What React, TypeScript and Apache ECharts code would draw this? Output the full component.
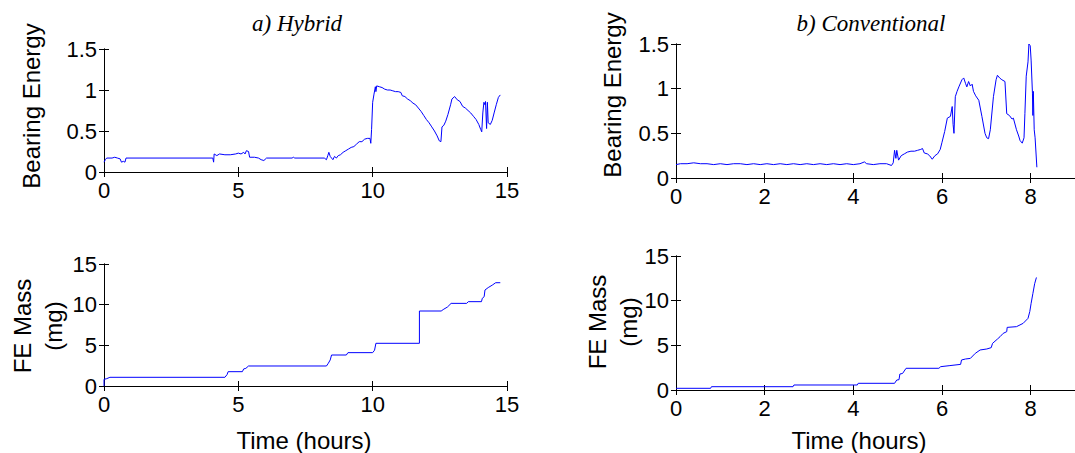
import React, { useEffect, useRef } from "react";
import * as echarts from "echarts";

// ---- Data ----
const hybridEnergyT = [0.0, 0.05, 0.1, 0.3, 0.4, 0.5, 0.6, 0.65, 0.72, 0.78, 0.82, 4.05, 4.08, 4.1, 4.2, 4.3, 4.5, 4.7, 4.9, 5.0, 5.1, 5.2, 5.25, 5.3, 5.38, 5.42, 5.6, 5.75, 5.85, 5.95, 6.05, 7.0, 7.05, 7.1, 8.2, 8.28, 8.33, 8.37, 8.42, 8.47, 8.52, 8.58, 8.65, 8.72, 8.8, 8.9, 9.0, 9.1, 9.2, 9.3, 9.4, 9.5, 9.6, 9.7, 9.8, 9.9, 9.93, 9.96, 10.0, 10.05, 10.1, 10.12, 10.15, 10.25, 10.35, 10.45, 10.55, 10.65, 10.75, 10.85, 10.95, 11.05, 11.1, 11.2, 11.3, 11.4, 11.5, 11.6, 11.7, 11.8, 11.9, 12.0, 12.1, 12.2, 12.3, 12.4, 12.48, 12.54, 12.58, 12.65, 12.72, 12.8, 12.9, 12.95, 13.05, 13.15, 13.25, 13.35, 13.45, 13.55, 13.65, 13.75, 13.85, 13.95, 14.02, 14.06, 14.1, 14.14, 14.18, 14.2, 14.24, 14.27, 14.3, 14.38, 14.45, 14.52, 14.6, 14.68, 14.75];
const hybridEnergyV = [0.12, 0.15, 0.17, 0.17, 0.18, 0.17, 0.16, 0.12, 0.13, 0.12, 0.17, 0.17, 0.12, 0.22, 0.2, 0.22, 0.21, 0.21, 0.22, 0.23, 0.22, 0.24, 0.22, 0.26, 0.25, 0.18, 0.18, 0.17, 0.15, 0.14, 0.17, 0.17, 0.18, 0.17, 0.17, 0.15, 0.2, 0.24, 0.19, 0.17, 0.15, 0.19, 0.17, 0.2, 0.21, 0.24, 0.26, 0.28, 0.3, 0.31, 0.34, 0.37, 0.37, 0.4, 0.41, 0.41, 0.35, 0.52, 0.85, 0.95, 1.04, 0.98, 1.05, 1.04, 1.03, 1.01, 1.0, 1.0, 0.99, 0.98, 0.98, 0.97, 0.93, 0.92, 0.89, 0.87, 0.84, 0.82, 0.78, 0.74, 0.69, 0.64, 0.6, 0.55, 0.5, 0.44, 0.38, 0.37, 0.55, 0.57, 0.62, 0.7, 0.82, 0.89, 0.92, 0.88, 0.86, 0.8, 0.78, 0.75, 0.72, 0.68, 0.64, 0.58, 0.52, 0.49, 0.72, 0.85, 0.82, 0.86, 0.53, 0.85, 0.6, 0.58, 0.63, 0.72, 0.82, 0.91, 0.94];

const hybridMassT = [0, 0, 0.1, 0.22, 4.5, 4.58, 4.62, 5.15, 5.2, 5.28, 5.38, 8.28, 8.35, 8.42, 8.47, 9.02, 9.08, 10.0, 10.07, 10.12, 11.74, 11.74, 12.55, 12.65, 12.78, 12.92, 13.5, 13.56, 14.05, 14.08, 14.15, 14.18, 14.3, 14.45, 14.58, 14.75];
const hybridMassV = [0, 0.82, 0.9, 1.07, 1.07, 1.4, 1.76, 1.76, 2.1, 2.17, 2.46, 2.46, 2.8, 3.2, 3.81, 3.81, 4.1, 4.1, 4.4, 5.25, 5.25, 9.22, 9.22, 9.45, 9.7, 10.16, 10.16, 10.37, 10.37, 10.78, 10.98, 11.8, 12.1, 12.4, 12.7, 12.7];

const convEnergyT = [0.0, 0.1, 0.25, 0.4, 0.55, 0.7, 0.85, 1.0, 1.15, 1.3, 1.45, 1.6, 1.75, 1.9, 2.05, 2.2, 2.35, 2.5, 2.65, 2.8, 2.95, 3.1, 3.25, 3.4, 3.55, 3.7, 3.85, 4.0, 4.15, 4.25, 4.3, 4.45, 4.6, 4.75, 4.86, 4.9, 4.93, 4.96, 4.98, 5.02, 5.08, 5.15, 5.22, 5.3, 5.38, 5.45, 5.52, 5.56, 5.6, 5.67, 5.72, 5.78, 5.84, 5.9, 5.96, 6.0, 6.06, 6.12, 6.19, 6.23, 6.25, 6.27, 6.3, 6.34, 6.38, 6.45, 6.49, 6.53, 6.56, 6.6, 6.64, 6.68, 6.71, 6.76, 6.83, 6.9, 6.97, 7.01, 7.05, 7.09, 7.16, 7.22, 7.25, 7.3, 7.35, 7.42, 7.46, 7.52, 7.58, 7.61, 7.68, 7.73, 7.76, 7.81, 7.85, 7.87, 7.9, 7.94, 7.96, 7.99, 8.01, 8.04, 8.05, 8.06, 8.08, 8.1, 8.14];
const convEnergyV = [0.15, 0.16, 0.16, 0.17, 0.16, 0.16, 0.15, 0.16, 0.15, 0.16, 0.16, 0.15, 0.16, 0.15, 0.16, 0.15, 0.16, 0.15, 0.16, 0.15, 0.16, 0.15, 0.16, 0.15, 0.16, 0.15, 0.16, 0.15, 0.16, 0.18, 0.16, 0.15, 0.16, 0.16, 0.14, 0.17, 0.31, 0.22, 0.31, 0.2, 0.25, 0.27, 0.29, 0.3, 0.3, 0.31, 0.32, 0.33, 0.28, 0.27, 0.25, 0.21, 0.25, 0.27, 0.32, 0.4, 0.52, 0.67, 0.69, 0.8, 0.6, 0.5, 0.91, 0.97, 1.02, 1.1, 1.12, 1.06, 1.02, 1.08, 1.03, 1.05, 0.97, 0.92, 0.87, 0.69, 0.5, 0.45, 0.44, 0.54, 0.91, 1.1, 1.15, 1.12, 1.1, 1.08, 0.72, 0.7, 0.66, 0.67, 0.54, 0.47, 0.42, 0.39, 0.45, 0.72, 1.14, 1.3, 1.5, 1.48, 1.32, 0.95, 0.7, 0.97, 0.54, 0.45, 0.12];

const convMassT = [0, 0.78, 0.8, 2.64, 2.66, 4.09, 4.11, 4.93, 4.98, 5.03, 5.05, 5.11, 5.19, 5.93, 5.97, 6.16, 6.42, 6.44, 6.53, 6.64, 6.75, 6.86, 7.01, 7.11, 7.14, 7.25, 7.31, 7.38, 7.46, 7.47, 7.68, 7.83, 7.94, 7.98, 8.01, 8.05, 8.09, 8.13];
const convMassV = [0.19, 0.19, 0.37, 0.37, 0.56, 0.56, 0.75, 0.75, 1.12, 1.15, 1.79, 1.85, 2.43, 2.43, 2.61, 2.72, 2.87, 3.36, 3.47, 3.54, 4.1, 4.48, 4.59, 4.74, 5.22, 5.7, 5.97, 6.34, 6.53, 7.01, 7.09, 7.46, 8.02, 8.77, 9.7, 10.8, 11.9, 12.6];

const titles = ["a) Hybrid", "b) Conventional"];
const energyLabel = "Bearing Energy";
const massLabel = "FE Mass\n(mg)";
const timeLabel = "Time (hours)";

const zip = (t: number[], v: number[]) => t.map((x, i) => [x, v[i]]);

const FONT = "Liberation Sans, Arial, sans-serif";

export default function App() {
  const ref = useRef<HTMLDivElement>(null);
  useEffect(() => {
    if (!ref.current) return;
    const chart = echarts.init(ref.current, undefined, { renderer: "svg" });

    const grids = [
      { left: 104, top: 49, width: 403, height: 123 },
      { left: 104, top: 264, width: 403, height: 122 },
      { left: 676, top: 44, width: 403, height: 134 },
      { left: 676, top: 256, width: 403, height: 134 },
    ];
    const xSpecs = [
      { max: 15, interval: 5 },
      { max: 15, interval: 5 },
      { max: 9, interval: 2 },
      { max: 9, interval: 2 },
    ];
    const ySpecs = [
      { max: 1.5, interval: 0.5 },
      { max: 15, interval: 5 },
      { max: 1.5, interval: 0.5 },
      { max: 15, interval: 5 },
    ];
    const line = { show: true, lineStyle: { color: "#000", width: 1 } };
    const tick = { show: true, inside: true, length: 5, lineStyle: { color: "#000", width: 1 } };
    const xAxis: any[] = [];
    const yAxis: any[] = [];
    grids.forEach((_, i) => {
      const xs = xSpecs[i];
      const ys = ySpecs[i];
      xAxis.push({
        type: "value", gridIndex: i, position: "bottom", min: 0, max: xs.max, interval: xs.interval,
        axisLine: line, axisTick: tick, splitLine: { show: false },
        axisLabel: {
          color: "#000", fontSize: 22, fontFamily: FONT, margin: 7, showMaxLabel: xs.max !== 9,
          formatter: (v: number) => (v === 9 ? "" : String(v)),
        },
      });
      xAxis.push({
        type: "value", gridIndex: i, position: "top", min: 0, max: xs.max, interval: xs.interval,
        axisLine: line, axisTick: tick, splitLine: { show: false }, axisLabel: { show: false },
      });
      yAxis.push({
        type: "value", gridIndex: i, position: "left", min: 0, max: ys.max, interval: ys.interval,
        axisLine: line, axisTick: tick, splitLine: { show: false },
        axisLabel: { color: "#000", fontSize: 22, fontFamily: FONT, margin: 7 },
      });
      yAxis.push({
        type: "value", gridIndex: i, position: "right", min: 0, max: ys.max, interval: ys.interval,
        axisLine: line, axisTick: tick, splitLine: { show: false }, axisLabel: { show: false },
      });
    });

    const datasets = [
      zip(hybridEnergyT, hybridEnergyV),
      zip(hybridMassT, hybridMassV),
      zip(convEnergyT, convEnergyV),
      zip(convMassT, convMassV),
    ];
    const series = datasets.map((d, i) => ({
      type: "line",
      xAxisIndex: i * 2,
      yAxisIndex: i * 2,
      data: d,
      showSymbol: false,
      symbol: "none",
      lineStyle: { color: "#0000ff", width: 1 },
    }));

    const txt = (x: number, y: number, text: string, extra: any = {}) => ({
      type: "text",
      x, y,
      style: {
        text, fill: "#000", fontSize: 24, fontFamily: FONT,
        align: "center", verticalAlign: "middle", ...extra,
      },
    });
    const rot = (x: number, y: number, text: string) => ({
      ...txt(x, y, text, { lineHeight: 31 }),
      rotation: Math.PI / 2,
    });

    chart.setOption({
      animation: false,
      grid: grids,
      xAxis,
      yAxis,
      series,
      graphic: [
        txt(297, 23, titles[0], { fontFamily: "Liberation Serif, Times New Roman, serif", fontStyle: "italic", fontSize: 23 }),
        txt(871, 23, titles[1], { fontFamily: "Liberation Serif, Times New Roman, serif", fontStyle: "italic", fontSize: 23 }),
        rot(31, 106, energyLabel),
        rot(612, 95, energyLabel),
        rot(38, 326, massLabel),
        rot(613, 322, massLabel),
        txt(304, 440, timeLabel),
        txt(859, 440, timeLabel),
      ],
    });
    return () => chart.dispose();
  }, []);
  return (
    <div
      ref={ref}
      style={{ position: "fixed", left: 0, top: 0, width: 1075, height: 453, overflow: "hidden", background: "#fff" }}
    />
  );
}
